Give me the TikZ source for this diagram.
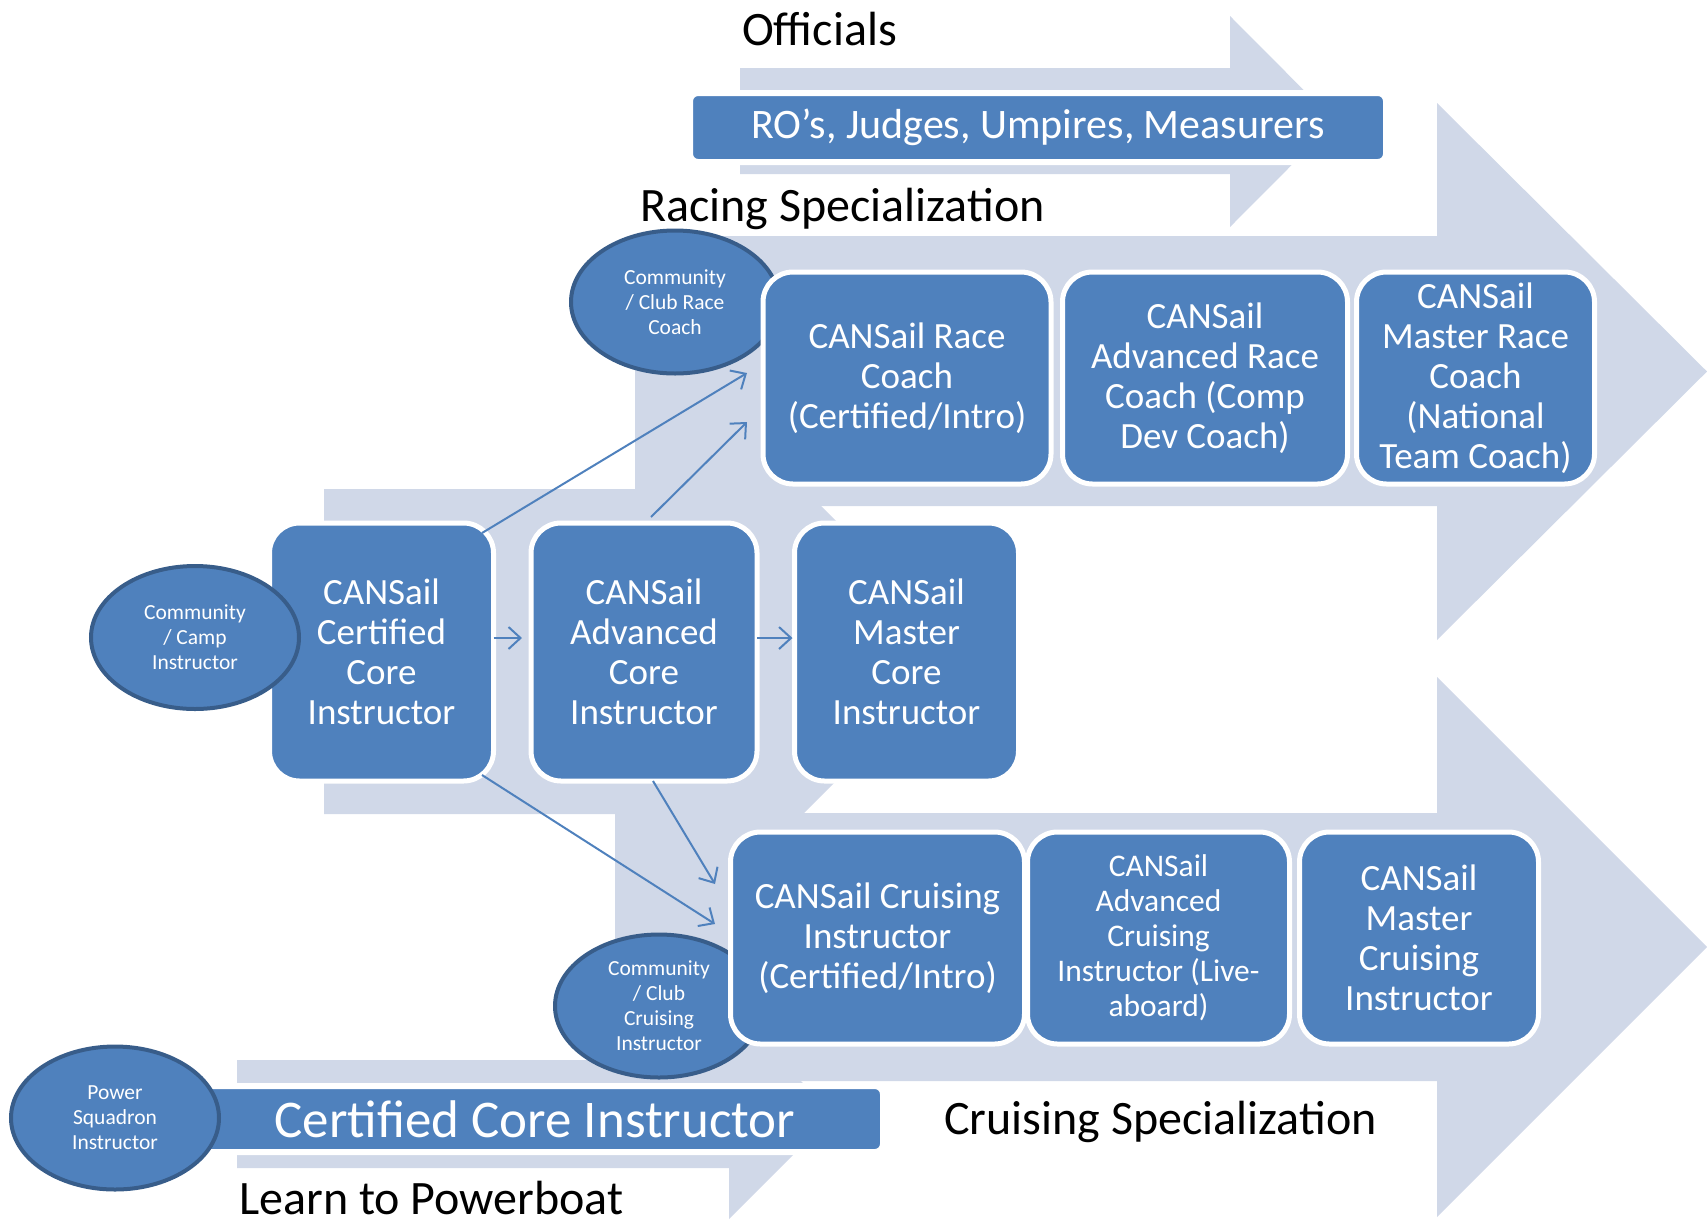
\documentclass[tikz,border=0pt]{standalone}
\usepackage{fontspec}
\setmainfont{Carlito}
\usetikzlibrary{
    shapes.geometric,
    arrows.meta,
    positioning
}
\definecolor{sailblue}{RGB}{79, 129, 189}
\definecolor{ovalline}{RGB}{56, 93, 138}
\definecolor{trackgray}{RGB}{208, 216, 232}

\begin{document}
\begin{tikzpicture}[
        x=1pt, y=-1pt,
        box/.style={rectangle, draw=white, line width=5pt, rounded corners=30pt, fill=sailblue, text=white, align=center, inner sep=0pt, outer sep=0pt, font=\fontsize{37}{40}\selectfont},
        oval/.style={ellipse, draw=ovalline, line width=4pt, fill=sailblue, text=white, align=center, inner sep=0pt, outer sep=0pt, minimum width=208pt, minimum height=143pt, font=\fontsize{21.5}{25}\selectfont},
        bar/.style={rectangle, draw=white, line width=6pt, rounded corners=8pt, fill=sailblue, text=white, inner sep=0pt, outer sep=0pt},
        heading/.style={anchor=base west, inner sep=0pt, font=\fontsize{48}{56}\selectfont},
        arrow/.style={-{Straight Barb[length=12pt,width=22pt]}, draw=sailblue, line width=2pt},
        track/.style={fill=trackgray}
    ]
        \useasboundingbox (0,0) rectangle (1707,1224);

        % Tracks
        \fill[track] (740,68) -- (1230,68) -- (1230,16) -- (1335,121.5) -- (1230,227) -- (1230,174) -- (740,174) -- cycle;
        \fill[track] (635,236) -- (1437,236) -- (1437,103) -- (1707,371.5) -- (1437,640) -- (1437,506) -- (635,506) -- cycle;
        \fill[track] (324,489) -- (800,489) -- (800,485) -- (966,651) -- (800,817) -- (800,814) -- (324,814) -- cycle;
        \fill[track] (615,813) -- (1437,813) -- (1437,677) -- (1707,947) -- (1437,1217) -- (1437,1081) -- (615,1081) -- cycle;
        \fill[track] (237,1060) -- (729,1060) -- (729,1009) -- (834,1114) -- (729,1219) -- (729,1168) -- (237,1168) -- cycle;

        % Headings
        \node[heading] (officials) at (742,45) {Officials};
        \node[heading] (racing) at (640,221) {Racing Specialization};
        \node[heading] (cruising) at (944,1134) {Cruising Specialization};
        \node[heading] (powerboat) at (239,1214) {Learn to Powerboat};

        % Bars
        \node[bar, minimum width=696pt, minimum height=69pt, font=\fontsize{42}{48}\selectfont] (robar) at (1038,127.5) {RO’s, Judges, Umpires, Measurers};
        \node[bar, minimum width=696pt, minimum height=66pt, font=\fontsize{53}{60}\selectfont] (powerbar) at (535,1119) {Certified Core Instructor};

        % Ovals behind
        \node[oval] (raceoval) at (675,302) {Community\\/ Club Race\\Coach};
        \node[oval] (cruiseoval) at (659,1006) {Community\\/ Club\\Cruising\\Instructor};

        % Row 1: Racing
        \node[box, minimum width=288pt, minimum height=212pt] (race) at (907,378) {CANSail Race\\Coach\\(Certified/Intro)};
        \node[box, minimum width=285pt, minimum height=212pt] (advrace) at (1205,378) {CANSail\\Advanced Race\\Coach (Comp\\Dev Coach)};
        \node[box, minimum width=238pt, minimum height=212pt] (masterrace) at (1475.5,378) {CANSail\\Master Race\\Coach\\(National\\Team Coach)};

        % Row 2: Core
        \node[box, minimum width=224pt, minimum height=258pt] (cert) at (381.5,652) {CANSail\\Certified\\Core\\Instructor};
        \node[box, minimum width=226pt, minimum height=258pt] (advcore) at (644,652) {CANSail\\Advanced\\Core\\Instructor};
        \node[box, minimum width=224pt, minimum height=258pt] (mastercore) at (906.5,652) {CANSail\\Master\\Core\\Instructor};

        % Row 3: Cruising
        \node[box, minimum width=294pt, minimum height=212pt] (cruise) at (877.5,938) {CANSail Cruising\\Instructor\\(Certified/Intro)};
        \node[box, minimum width=262pt, minimum height=212pt, font=\fontsize{31.5}{35}\selectfont] (advcruise) at (1158.5,938) {CANSail\\Advanced\\Cruising\\Instructor (Live-\\aboard)};
        \node[box, minimum width=239pt, minimum height=212pt] (mastercruise) at (1419,938) {CANSail\\Master\\Cruising\\Instructor};

        % Ovals in front
        \node[oval] (campoval) at (195,637.5) {Community\\/ Camp\\Instructor};
        \node[oval] (poweroval) at (115,1118) {Power\\Squadron\\Instructor};

        % Arrows
        \draw[arrow] ([yshift=14pt]cert.east) -- ([xshift=-9pt,yshift=14pt]advcore.west);
        \draw[arrow] ([yshift=14pt]advcore.east) -- ([xshift=-2pt,yshift=14pt]mastercore.west);
        \draw[arrow] ([xshift=-11.5pt,yshift=-10pt]cert.north east) -- ([xshift=-16pt,yshift=5pt]race.west);
        \draw[arrow] ([xshift=7pt,yshift=6pt]advcore.north) -- ([xshift=-16pt,yshift=-44pt]race.west);
        \draw[arrow] ([xshift=-11.5pt,yshift=6pt]cert.south east) -- ([xshift=-15.5pt,yshift=14pt]cruise.west);
        \draw[arrow] ([xshift=9pt]advcore.south) -- ([xshift=-15.5pt,yshift=54pt]cruise.west);
    \end{tikzpicture}
\end{document}
